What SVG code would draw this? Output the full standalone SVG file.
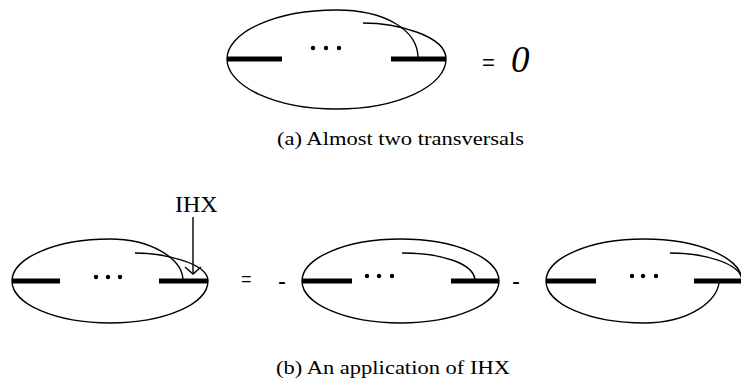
<svg xmlns="http://www.w3.org/2000/svg" width="741" height="386" viewBox="0 0 741 386">
<style>
.o{fill:none;stroke:#000;stroke-width:1.4}
.t{stroke:#000;stroke-width:4.8;fill:none}
.d{fill:#000}
.cap{font-family:"Liberation Serif",serif;font-size:18px;fill:#000}
.op{font-family:"Liberation Sans",sans-serif;fill:#000}
</style>
<rect width="741" height="386" fill="#fff"/>
<g id="fig-a">
<path class="o" d="M227,59 A109.5,49 0 0 1 336.5,10 C385,10 418,30 418,58"/>
<path class="o" d="M227,59 A109.5,50 0 0 0 446,59"/>
<path class="o" d="M363,23 C395,23 446,35 446,59"/>
<line class="t" x1="227" y1="59" x2="282" y2="59"/>
<line class="t" x1="391" y1="59" x2="446" y2="59"/>
<circle class="d" cx="313" cy="48" r="2.2"/>
<circle class="d" cx="326" cy="48" r="2.2"/>
<circle class="d" cx="339" cy="48" r="2.2"/>
</g>
<text class="op" x="482" y="70" font-size="22">=</text>
<text x="511" y="72" style="font-family:'Liberation Serif',serif;font-size:37px;font-style:italic;fill:#000">0</text>
<text class="cap" x="277" y="145" textLength="247" lengthAdjust="spacingAndGlyphs">(a) Almost two transversals</text>
<g id="fig-b1">
<path class="o" d="M12,281 A98,42 0 0 1 110,239 C150,239 183,258 183,281"/>
<path class="o" d="M12,281 A98,42 0 0 0 208,281"/>
<path class="o" d="M135,253 C160,253 208,262 208,281"/>
<line class="t" x1="12" y1="281" x2="60" y2="281"/>
<line class="t" x1="159" y1="281" x2="208" y2="281"/>
<circle class="d" cx="96" cy="277" r="2.2"/>
<circle class="d" cx="108" cy="277" r="2.2"/>
<circle class="d" cx="120" cy="277" r="2.2"/>
</g>
<g id="label-ihx">
<text x="175" y="212" style="font-family:'Liberation Serif',serif;font-size:24px;fill:#000">IHX</text>
</g>
<g id="connectors">
<line class="o" x1="193" y1="217" x2="193" y2="274"/>
<path class="o" d="M185,267 L193,274 L201,267"/>
</g>
<text class="op" x="241" y="285" font-size="18">=</text>
<text class="op" x="278" y="289" font-size="24">-</text>
<g id="fig-b2">
<ellipse class="o" cx="400.5" cy="281" rx="98.5" ry="42"/>
<path class="o" d="M402,253 C440,253 475,263 475,281"/>
<line class="t" x1="302" y1="281" x2="352" y2="281"/>
<line class="t" x1="451" y1="281" x2="499" y2="281"/>
<circle class="d" cx="367" cy="276" r="2.2"/>
<circle class="d" cx="379" cy="276" r="2.2"/>
<circle class="d" cx="392" cy="276" r="2.2"/>
</g>
<text class="op" x="512" y="289" font-size="24">-</text>
<g id="fig-b3">
<path class="o" d="M546,281 A98,42 0 0 1 742,281"/>
<path class="o" d="M546,281 A98,42 0 0 0 644,323 C690,323 719,300 719,281"/>
<path class="o" d="M670,253 C700,253 742,262 742,281"/>
<line class="t" x1="546" y1="281" x2="596" y2="281"/>
<line class="t" x1="694" y1="281" x2="742" y2="281"/>
<circle class="d" cx="632" cy="276" r="2.2"/>
<circle class="d" cx="643" cy="276" r="2.2"/>
<circle class="d" cx="656" cy="276" r="2.2"/>
</g>
<text class="cap" x="276" y="374" textLength="234" lengthAdjust="spacingAndGlyphs">(b) An application of IHX</text>
</svg>
